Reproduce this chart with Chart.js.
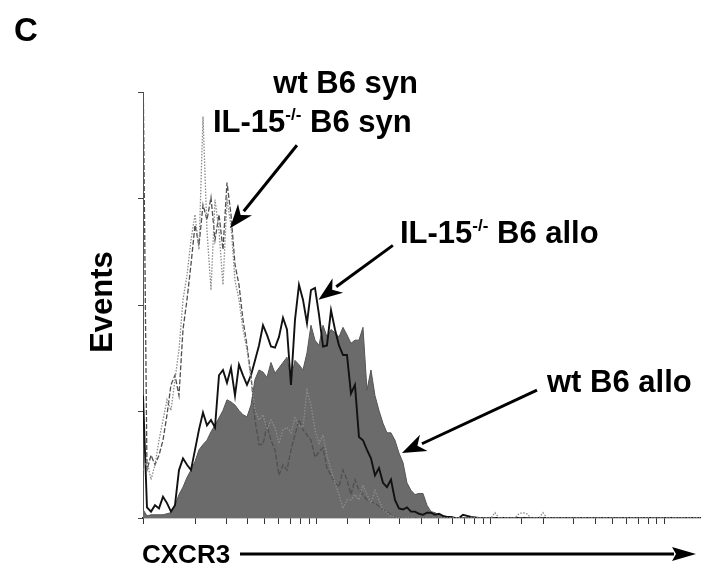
<!DOCTYPE html>
<html>
<head>
<meta charset="utf-8">
<script src="https://cdn.jsdelivr.net/npm/chart.js@4.4.1/dist/chart.umd.min.js"></script>
<style>
    html, body { margin: 0; padding: 0; background: #fff; }
    canvas { display: block; }
</style>
</head>
<body>
<canvas id="cxcr3Canvas" width="707" height="571"></canvas>
<script>
// --------------------
// Data (CXCR3 intensity, log axis; events per channel)
// --------------------
const cxcr3 = [
    1.000, 1.054, 1.112, 1.172, 1.236, 1.303, 1.374, 1.448, 1.527, 1.610,
    1.698, 1.790, 1.887, 1.990, 2.098, 2.212, 2.332, 2.459, 2.593, 2.734,
    2.882, 3.039, 3.204, 3.379, 3.562, 3.756, 3.960, 4.175, 4.402, 4.642,
    4.894, 5.160, 5.440, 5.736, 6.048, 6.376, 6.723, 7.088, 7.474, 7.880,
    8.308, 8.760, 9.236, 9.739, 10.27, 10.83, 11.41, 12.04, 12.69, 13.38,
    14.11, 14.87, 15.68, 16.53, 17.43, 18.38, 19.38, 20.43, 21.54, 22.71,
    23.95, 25.25, 26.62, 28.07, 29.60, 31.21, 32.90, 34.69, 36.58, 38.57,
    40.67, 42.88, 45.21, 47.67, 50.24, 52.98, 55.86, 58.90, 62.10, 65.48,
    69.04, 76.77, 85.31, 94.84, 100.0, 105.4, 111.2, 130.3, 137.4, 144.8,
    152.7, 161.0, 169.8, 188.7, 199.0, 209.8, 1590
];

const wtB6Allo = [
    8, 2, 3, 3, 3, 3, 4, 5, 12, 22,
    29, 38, 45, 53, 64, 69, 73, 81, 87, 94,
    101, 111, 109, 106, 101, 97, 95, 106, 130, 139,
    137, 132, 146, 136, 141, 146, 151, 130, 148, 144,
    139, 155, 181, 167, 162, 181, 170, 177, 174, 170,
    179, 172, 164, 167, 167, 179, 120, 139, 115, 101,
    89, 80, 80, 73, 61, 52, 33, 26, 22, 23,
    23, 12, 6, 5, 3, 2, 1, 1, 0, 0,
    0, 0, 0, 0, 0, 0, 0, 0, 0, 0,
    0, 0, 0, 0, 0, 0, 0
];

const il15B6Allo = [
    115, 10, 6, 12, 9, 20, 14, 6, 12, 45,
    56, 50, 45, 64, 83, 99, 87, 92, 85, 134,
    139, 127, 141, 115, 144, 134, 125, 134, 148, 162,
    181, 172, 161, 160, 170, 188, 177, 125, 186, 219,
    205, 183, 214, 216, 191, 161, 162, 195, 177, 162,
    153, 153, 117, 125, 76, 73, 64, 56, 40, 47,
    33, 29, 36, 17, 9, 8, 10, 6, 6, 4,
    3, 5, 5, 3, 4, 2, 1, 1, 0, 0,
    3, 1, 0, 0, 0, 0, 0, 0, 0, 0,
    0, 0, 0, 0, 0, 0, 0
];

const wtB6Syn = [
    430, 45, 59, 50, 59, 73, 97, 125, 134, 115,
    177, 205, 238, 275, 256, 294, 280, 301, 261, 285,
    252, 315, 285, 238, 219, 186, 162, 134, 92, 69,
    69, 87, 73, 64, 40, 50, 45, 64, 78, 92,
    83, 78, 73, 57, 62, 66, 47, 40, 33, 29,
    45, 36, 22, 36, 26, 22, 17, 15, 14, 11,
    8, 6, 3, 1, 0, 0, 0, 0, 0, 0,
    0, 0, 0, 0, 0, 0, 0, 0, 0, 0,
    0, 0, 0, 0, 0, 0, 0, 0, 0, 0,
    0, 0, 0, 0, 0, 0, 0
];

const il15B6Syn = [
    45, 54, 36, 50, 73, 92, 111, 101, 130, 158,
    205, 228, 261, 285, 252, 377, 270, 214, 299, 270,
    219, 299, 275, 223, 205, 177, 158, 130, 101, 92,
    97, 83, 92, 85, 70, 83, 85, 80, 94, 87,
    85, 120, 106, 83, 70, 78, 59, 45, 33, 22,
    9, 17, 17, 22, 17, 31, 22, 14, 26, 17,
    8, 5, 2, 1, 0, 0, 0, 0, 0, 0,
    0, 0, 0, 0, 0, 0, 0, 0, 0, 0,
    0, 0, 0, 0, 0, 5, 0, 0, 0, 4,
    5, 4, 0, 0, 5, 0, 0
];

const yTicks = [0, 100, 200, 300, 400];

// --------------------
// Helpers
// --------------------
function toPoints(values) {
    return values.map((v, i) => ({ x: cxcr3[i], y: v }));
}

const FONT = '"Liberation Sans", Arial, sans-serif';

function drawArrow(ctx, x1, y1, x2, y2, headLen, headHalf, notch) {
    const ang = Math.atan2(y2 - y1, x2 - x1);
    const cos = Math.cos(ang), sin = Math.sin(ang);
    ctx.beginPath();
    ctx.moveTo(x1, y1);
    ctx.lineTo(x2 - cos * (headLen - 2), y2 - sin * (headLen - 2));
    ctx.stroke();
    const bx = x2 - cos * headLen, by = y2 - sin * headLen;
    ctx.beginPath();
    ctx.moveTo(x2, y2);
    ctx.lineTo(bx - sin * headHalf, by + cos * headHalf);
    ctx.lineTo(x2 - cos * (headLen - notch), y2 - sin * (headLen - notch));
    ctx.lineTo(bx + sin * headHalf, by - cos * headHalf);
    ctx.closePath();
    ctx.fill();
}

function drawLabel(ctx, x, y, parts) {
    // parts: [text, size, raise]
    let cx = x;
    parts.forEach(([text, size, raise]) => {
        ctx.font = `bold ${size}px ${FONT}`;
        ctx.fillText(text, cx, y - raise);
        cx += ctx.measureText(text).width;
    });
}

// --------------------
// Text + arrows overlay
// --------------------
const overlayPlugin = {
    id: 'overlay',
    afterDraw(chart) {
        const { ctx, scales: { x, y } } = chart;
        ctx.save();
        ctx.fillStyle = '#000';
        ctx.strokeStyle = '#000';
        ctx.textBaseline = 'alphabetic';

        ctx.font = `bold 33px ${FONT}`;
        ctx.fillText('C', 14, 41);

        ctx.textAlign = 'right';
        ctx.font = `bold 31px ${FONT}`;
        ctx.fillText('wt B6 syn', 418, 93);
        ctx.textAlign = 'left';

        drawLabel(ctx, 213, 132, [['IL-15', 31, 0], ['-/-', 17, 12], [' B6 syn', 31, 0]]);
        drawLabel(ctx, 400, 243, [['IL-15', 31, 0], ['-/-', 17, 12], [' B6 allo', 31, 0]]);
        drawLabel(ctx, 547, 392, [['wt B6 allo', 31, 0]]);

        ctx.save();
        ctx.translate(112, 302);
        ctx.rotate(-Math.PI / 2);
        ctx.textAlign = 'center';
        ctx.font = `bold 31px ${FONT}`;
        ctx.fillText('Events', 0, 0);
        ctx.restore();

        ctx.font = `bold 26px ${FONT}`;
        ctx.fillText('CXCR3', 142, 563);

        // annotation arrows, anchored in data units
        ctx.lineWidth = 3;
        const px = v => x.getPixelForValue(v);
        const py = v => y.getPixelForValue(v);
        drawArrow(ctx, px(7.67), py(350), px(3.16), py(272), 24, 9, 7);
        drawArrow(ctx, px(27.3), py(256), px(10.2), py(205), 24, 9, 7);
        drawArrow(ctx, px(183.8), py(120), px(30.8), py(61), 24, 9, 7);

        // axis arrow under CXCR3
        ctx.lineWidth = 3;
        drawArrow(ctx, 240, 554, 696, 554, 24, 7, 4);
        ctx.restore();
    }
};

// --------------------
// Chart instance
// --------------------
const ctx = document.getElementById('cxcr3Canvas').getContext('2d');

const cxcr3Chart = new Chart(ctx, {
    type: 'line',
    data: {
        datasets: [
            {
                label: 'IL-15-/- B6 syn',
                data: toPoints(il15B6Syn),
                borderColor: '#8c8c8c',
                borderWidth: 1.3,
                borderDash: [1.5, 1.5],
                fill: false
            },
            {
                label: 'wt B6 syn',
                data: toPoints(wtB6Syn),
                borderColor: '#505050',
                borderWidth: 1.3,
                borderDash: [5, 2],
                fill: false
            },
            {
                label: 'IL-15-/- B6 allo',
                data: toPoints(il15B6Allo),
                borderColor: '#111',
                borderWidth: 1.9,
                fill: false
            },
            {
                label: 'wt B6 allo',
                data: toPoints(wtB6Allo),
                borderColor: '#555',
                backgroundColor: '#6b6b6b',
                borderWidth: 1,
                fill: 'origin'
            }
        ]
    },
    options: {
        responsive: false,
        animation: false,
        layout: { padding: { left: 138, top: 92, right: 7, bottom: 47 } },
        elements: { point: { radius: 0 }, line: { tension: 0 } },
        plugins: { legend: { display: false }, tooltip: { enabled: false } },
        scales: {
            x: {
                type: 'logarithmic',
                min: 1,
                max: 1590,
                afterBuildTicks: scale => {
                    scale.ticks = scale.ticks.filter(t => t.value <= 1000);
                },
                ticks: { display: false },
                grid: { drawOnChartArea: false, drawTicks: true, tickLength: 6, color: '#333', lineWidth: 1 },
                border: { color: '#222', width: 1.3 }
            },
            y: {
                min: yTicks[0],
                max: yTicks[yTicks.length - 1],
                afterBuildTicks: scale => {
                    scale.ticks = yTicks.map(v => ({ value: v }));
                },
                ticks: { display: false },
                grid: { drawOnChartArea: false, drawTicks: true, tickLength: 5, color: '#444', lineWidth: 1 },
                border: { color: '#555', width: 1 }
            }
        }
    },
    plugins: [overlayPlugin]
});
</script>
</body>
</html>
